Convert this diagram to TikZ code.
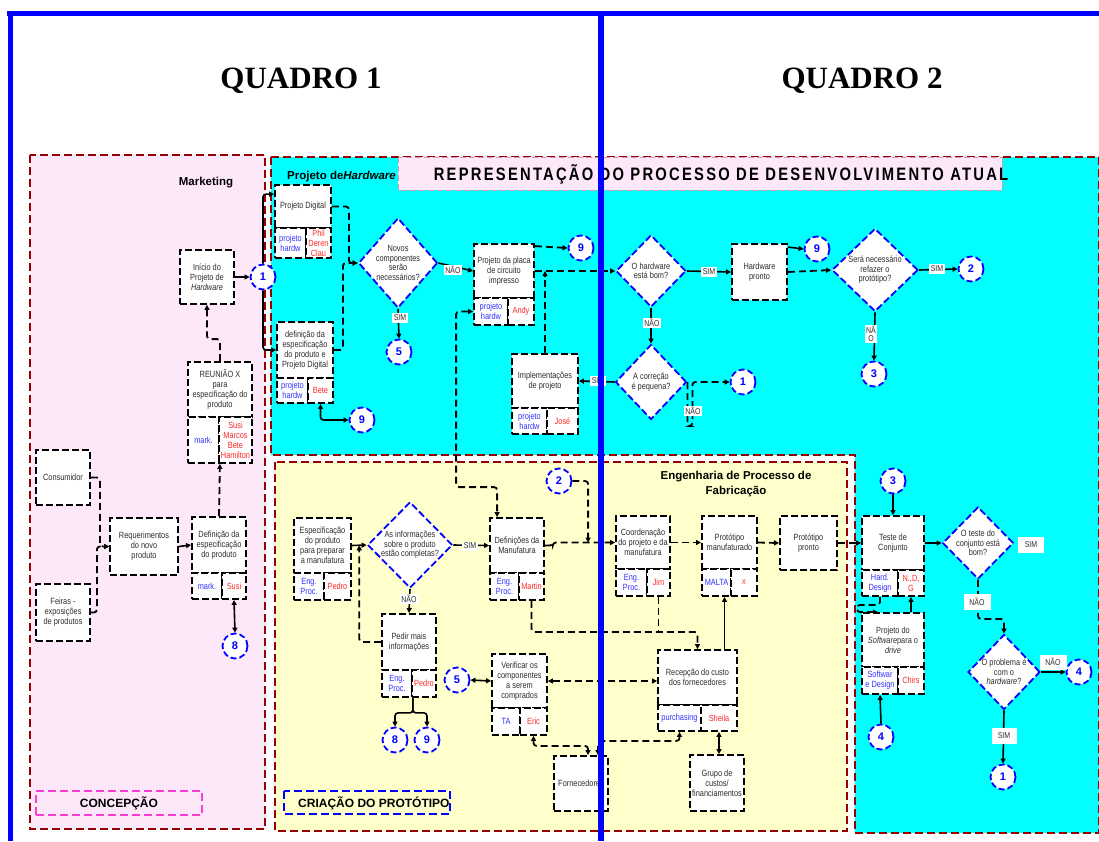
\documentclass[tikz,border=0pt]{standalone}
\usepackage{fontspec}
\setmainfont{Liberation Sans}
\newfontfamily\narrowsf[FakeStretch=0.82]{Liberation Sans}
\newfontfamily\titlesf[FakeStretch=0.82,LetterSpace=12.5]{Liberation Sans}
\newfontfamily\quadrofont{Liberation Serif}
\usetikzlibrary{shapes.geometric,arrows.meta,calc}

\definecolor{frameblue}{RGB}{0,0,255}
\definecolor{regred}{RGB}{150,0,0}
\definecolor{mkpink}{RGB}{253,232,250}
\definecolor{hwcyan}{RGB}{0,255,255}
\definecolor{protoyellow}{RGB}{255,255,204}
\definecolor{txtgray}{RGB}{45,45,45}
\definecolor{roleblue}{RGB}{50,50,255}
\definecolor{namered}{RGB}{255,40,40}
\definecolor{titlepinkline}{RGB}{215,150,170}
\definecolor{conceptmag}{RGB}{255,60,210}

\pgfdeclarelayer{bg}
\pgfdeclarelayer{wires}
\pgfsetlayers{bg,wires,main}

\tikzset{
  proc/.style={draw=black, fill=white, line width=1.8pt, dash pattern=on 7pt off 3pt,
    inner sep=1pt, align=center, font=\narrowsf\fontsize{9}{10}\selectfont, text=txtgray},
  cellL/.style={proc, text=roleblue},
  cellR/.style={proc, text=namered},
  dec/.style={diamond, draw=frameblue, fill=white, line width=1.8pt,
    dash pattern=on 7pt off 3pt, inner sep=0pt},
  dectext/.style={align=center, inner sep=0pt, text=txtgray,
    font=\narrowsf\fontsize{9}{9.5}\selectfont},
  conn/.style={circle, draw=frameblue, fill=white, line width=1.8pt,
    dash pattern=on 6pt off 3pt, minimum size=25pt, inner sep=0pt,
    font=\bfseries\fontsize{11}{11}\selectfont, text=frameblue},
  lbl/.style={fill=white, inner sep=1.5pt, align=center, text=txtgray,
    font=\narrowsf\fontsize{8.5}{8}\selectfont},
  wire/.style={draw=black, line width=1.8pt, dash pattern=on 7pt off 4pt, rounded corners=3pt},
  solidwire/.style={draw=black, line width=1.6pt, rounded corners=3pt},
  tip/.style={-{Triangle[length=5pt,width=5pt]}},
  dtip/.style={{Triangle[length=5pt,width=5pt]}-{Triangle[length=5pt,width=5pt]}},
  regborder/.style={draw=regred, line width=1.5pt, dash pattern=on 8pt off 4pt},
  regtitle/.style={font=\bfseries\fontsize{11.5}{15}\selectfont, text=black, align=center, inner sep=0pt},
  phasebox/.style={line width=1.5pt, dash pattern=on 8pt off 4pt, minimum height=24pt, inner sep=0pt,
    font=\bfseries\fontsize{12}{12}\selectfont, text=black}
}

% process box given by its corners (x1,y1) (x2,y2)
\newcommand\ProcBox[6]{\node[proc,minimum width={#4-#2},minimum height={#5-#3}] (#1) at ({(#2+#4)/2},{(#3+#5)/2}) {#6};}
% the two role cells under a process box: name, x-left, x-divider, x-right, y-top, y-bottom, role, person
\newcommand\RoleCells[8]{%
  \node[cellL,minimum width={#3-#2},minimum height={#6-#5}] (#1L) at ({(#2+#3)/2},{(#5+#6)/2}) {#7};
  \node[cellR,minimum width={#4-#3},minimum height={#6-#5}] (#1R) at ({(#3+#4)/2},{(#5+#6)/2}) {#8};}

\begin{document}
\begin{tikzpicture}[x=1pt,y=-1pt]
\useasboundingbox (0,0) rectangle (1099,841);

% ---------- swim regions ----------
\begin{pgfonlayer}{bg}
  \fill[white] (0,0) rectangle (1099,841);
  \draw[regborder, fill=mkpink] (30,155) rectangle (265,829);
  \draw[regborder, fill=hwcyan] (271,157) -- (1099,157) -- (1099,833) -- (855,833) -- (855,455) -- (271,455) -- cycle;
  \draw[regborder, fill=protoyellow] (275,462) rectangle (847,831);
  \draw[titlepinkline, line width=1pt, dash pattern=on 6pt off 3pt, fill=mkpink] (398,157) rectangle (1002,190);
\end{pgfonlayer}

\node[font=\quadrofont\bfseries\fontsize{31}{31}\selectfont, anchor=base, inner sep=0pt] (q1) at (301,88) {QUADRO 1};
\node[font=\quadrofont\bfseries\fontsize{31}{31}\selectfont, anchor=base, inner sep=0pt] (q2) at (862,88) {QUADRO 2};

\node[font=\titlesf\bfseries\fontsize{18}{18}\selectfont, anchor=base, inner sep=0pt] (title) at (721,180)
  {REPRESENTAÇÃO DO PROCESSO DE DESENVOLVIMENTO ATUAL};
\node[regtitle, anchor=base west] (hwtitle) at (287,179) {Projeto de\textit{Hardware}};
\node[regtitle, anchor=base] (mktitle) at (206,185) {Marketing};
\node[regtitle] (fabtitle) at (736,484) {Engenharia de Processo de\\Fabricação};

\node[phasebox, draw=conceptmag, minimum width=166pt] (concept) at (119,803) {CONCEPÇÃO};
\draw[phasebox, draw=frameblue] (284,791) rectangle (450,814);
\node[font=\bfseries\fontsize{12}{12}\selectfont, anchor=base west, inner sep=0pt] (proto) at (298,807) {CRIAÇÃO DO PROTÓTIPO};

% ---------- Marketing ----------
\ProcBox{cons}{36}{450}{90}{505}{Consumidor}
\ProcBox{feir}{36}{584}{90}{641}{Feiras -\\exposições\\de produtos}
\ProcBox{req}{110}{518}{178}{575}{Requerimentos\\do novo\\produto}
\ProcBox{def}{192}{517}{246}{573}{Definição da\\especificação\\do produto}
\RoleCells{def}{192}{222}{246}{573}{599}{mark.}{Susi}
\ProcBox{reun}{188}{362}{252}{417}{REUNIÃO X\\para\\especificação do\\produto}
\RoleCells{reun}{188}{219}{252}{417}{463}{mark.}{Susi\\Marcos\\Bete\\Hamilton}
\ProcBox{ini}{180}{250}{234}{304}{Início do\\Projeto de\\\textit{Hardware}}

% ---------- Projeto de Hardware ----------
\ProcBox{pd}{275}{185}{331}{228}{Projeto Digital}
\RoleCells{pd}{275}{306}{331}{228}{258}{projeto\\hardw}{Phil\\Deren\\Clau}
\ProcBox{dep}{277}{322}{333}{378}{definição da\\especificação\\do produto e\\Projeto Digital}
\RoleCells{dep}{277}{308}{333}{378}{403}{projeto\\hardw}{Bete}
\ProcBox{placa}{474}{244}{534}{298}{Projeto da placa\\de circuito\\impresso}
\RoleCells{placa}{474}{508}{534}{298}{325}{projeto\\hardw}{Andy}
\ProcBox{impl}{512}{354}{578}{408}{Implementações\\de projeto}
\RoleCells{impl}{512}{547}{578}{408}{434}{projeto\\hardw}{José}
\ProcBox{hwp}{732}{244}{787}{300}{Hardware\\pronto}

\node[dec, minimum width=79pt, minimum height=90pt] (dnov) at (398,263) {};
\node[dectext] (dnovt) at (dnov) {Novos\\componentes\\serão\\necessários?};
\node[dec, minimum width=70pt, minimum height=72pt] (dhw) at (651,271) {};
\node[dectext] (dhwt) at (dhw) {O hardware\\está bom?};
\node[dec, minimum width=86pt, minimum height=83pt] (dref) at (875,270) {};
\node[dectext] (dreft) at (dref) {Será necessário\\refazer o\\protótipo?};
\node[dec, minimum width=71pt, minimum height=75pt] (dcor) at (651,382) {};
\node[dectext] (dcort) at (dcor) {A correção\\é pequena?};

% ---------- Criação do protótipo ----------
\ProcBox{esp}{294}{518}{351}{573}{Especificação\\do produto\\para preparar\\a manufatura}
\RoleCells{esp}{294}{324}{351}{573}{600}{Eng.\\Proc.}{Pedro}
\ProcBox{dm}{490}{518}{544}{573}{Definições da\\Manufatura}
\RoleCells{dm}{490}{519}{544}{573}{600}{Eng.\\Proc.}{Martin}
\ProcBox{ped}{382}{614}{436}{670}{Pedir mais\\informações}
\RoleCells{ped}{382}{412}{436}{670}{697}{Eng.\\Proc.}{Pedro}
\ProcBox{ver}{492}{654}{547}{708}{Verificar os\\componentes\\a serem\\comprados}
\RoleCells{ver}{492}{520}{547}{708}{735}{TA}{Eric}
\ProcBox{forn}{554}{756}{608}{811}{Fornecedores}
\ProcBox{rec}{658}{650}{737}{705}{Recepção do custo\\dos fornecedores}
\RoleCells{rec}{658}{701}{737}{705}{731}{purchasing}{Sheila}
\ProcBox{grp}{690}{755}{744}{811}{Grupo de\\custos/\\financiamentos}
\ProcBox{coord}{616}{516}{670}{569}{Coordenação\\do projeto e da\\manufatura}
\RoleCells{coord}{616}{647}{670}{569}{596}{Eng.\\Proc.}{Jim}
\ProcBox{pm}{702}{516}{757}{569}{Protótipo\\manufaturado}
\RoleCells{pm}{702}{731}{757}{569}{596}{MALTA}{x}
\ProcBox{pp}{780}{516}{837}{570}{Protótipo\\pronto}

\node[dec, minimum width=85pt, minimum height=86pt] (dinf) at (410,545) {};
\node[dectext] (dinft) at (dinf) {As informações\\sobre o produto\\estão completas?};

% ---------- Teste ----------
\ProcBox{tc}{862}{516}{924}{570}{Teste de\\Conjunto}
\RoleCells{tc}{862}{898}{924}{570}{596}{Hard.\\Design}{N.,D,\\G}
\ProcBox{sw}{862}{613}{924}{667}{Projeto do\\\textit{Software}para o\\\textit{drive}}
\RoleCells{sw}{862}{898}{924}{667}{694}{Softwar\\e Design}{Chirs}

\node[dec, minimum width=71pt, minimum height=72pt] (dtes) at (978,543) {};
\node[dectext] (dtest) at (dtes) {O teste do\\conjunto está\\bom?};
\node[dec, minimum width=72pt, minimum height=75pt] (dprob) at (1004,672) {};
\node[dectext] (dprobt) at (dprob) {O problema é\\com o\\\textit{hardware}?};

% ---------- off-page connectors ----------
\node[conn] (c1a) at (263,277) {1};
\node[conn] (c8a) at (235,646) {8};
\node[conn] (c9a) at (362,420) {9};
\node[conn] (c5a) at (399,352) {5};
\node[conn] (c9b) at (581,248) {9};
\node[conn] (c9c) at (817,249) {9};
\node[conn] (c2a) at (971,269) {2};
\node[conn] (c3a) at (874,374) {3};
\node[conn] (c1b) at (743,382) {1};
\node[conn] (c2b) at (559,481) {2};
\node[conn] (c3b) at (893,481) {3};
\node[conn] (c5b) at (457,680) {5};
\node[conn] (c8b) at (395,740) {8};
\node[conn] (c9d) at (427,740) {9};
\node[conn] (c4a) at (1079,672) {4};
\node[conn] (c4b) at (881,737) {4};
\node[conn] (c1c) at (1003,777) {1};

% ---------- connectors ----------
\begin{pgfonlayer}{wires}
  % marketing
  \draw[wire,tip] (cons.east) -- ++(9,0) |- (req.west);
  \draw[wire,tip] (feir.east) -- ++(6,0) |- (req.west);
  \draw[solidwire,tip] (req.east) -- (def.west);
  \draw[wire,tip] (def.north) -- (reunL.south east);
  \draw[wire,tip] (reun.north) -- ++(0,-22) -| (ini.south);
  \draw[solidwire,tip] (ini.east) -- (c1a.west);
  \draw[solidwire,tip] (c1a.north) |- ($(pd.north west)+(0,10)$);
  \draw[solidwire,tip] (c1a.south) |- (dep.west);
  \draw[solidwire,dtip] (defR.south) -- (c8a.north);
  % hardware design
  \draw[wire,tip] (pd.east) -- ++(17,0) |- (dnov.west);
  \draw[wire,tip] (dep.east) -- ++(9,0) |- (dnov.west);
  \draw[solidwire,dtip] (depR.south) |- (c9a.west);
  \draw[solidwire,tip] (dnov.east) -- (placa.west);
  \draw[solidwire,tip] (dnov.south) -- (c5a.north);
  \draw[wire,tip] (placa.east) -- (dhw.west);
  \draw[wire,tip] ($(placa.north east)+(0,3)$) -- (c9b.west);
  \draw[wire,tip] (impl.north) -- (impl.north |- placa.east);
  \draw[wire,dtip] (placaL.west) -- ++(-17,0) |- ($(dm.north west)+(8,-30)$) -- ($(dm.north west)+(8,0)$);
  \draw[solidwire,tip] (dhw.east) -- (hwp.west);
  \draw[solidwire,tip] ($(hwp.north east)+(0,4)$) -- (c9c.west);
  \draw[wire,tip] (hwp.east) -- (dref.west);
  \draw[solidwire,tip] (dref.east) -- (c2a.west);
  \draw[solidwire,tip] (dref.south) -- (c3a.north);
  \draw[solidwire,tip] (dhw.south) -- (dcor.north);
  \draw[solidwire,tip] (dcor.west) -- (impl.east);
  \draw[wire,tip] (dcor.east) -- ++(0,44) -- ++(5,0) |- (c1b.west);
  % prototype creation
  \draw[solidwire,tip] (esp.east) -- (dinf.west);
  \draw[wire,tip] (ped.west) -| ($(esp.east)!0.5!(dinf.west)$);
  \draw[solidwire,tip] (dinf.east) -- (dm.west);
  \draw[solidwire,tip] (dinf.south) -- (ped.north);
  \draw[solidwire,tip] (pedL.south east) -- ++(0,15) -| (c8b.north);
  \draw[solidwire,tip] (pedL.south east) -- ++(0,15) -| (c9d.north);
  \draw[solidwire,dtip] (c5b.east) -- (ver.west);
  \draw[wire,dtip] (ver.east) -- (ver.east -| rec.west);
  \draw[wire,dtip] (verR.south) -- ++(0,10) -| ($(forn.north)+(7,0)$);
  \draw[wire,dtip] (recL.south) -- ++(0,9) -| ($(forn.north)+(17,0)$);
  \draw[solidwire,dtip] (recR.south) -- (recR.south |- grp.north);
  \draw[wire,tip] (dm.east) -- ++(8,0) |- (coord.west);
  \draw[wire,tip] (c2b.east) -| ($(coord.west)+(-27,0)$);
  \draw[wire,tip] (coord.east) -- (pm.west);
  \draw[wire,tip] (pm.east) -- (pp.west);
  \draw[wire,tip] (pp.east) -- (tc.west);
  \draw[wire,tip] (dmR.south) -- ++(0,31) -| (rec.north);
  \draw[wire] (coordR.south) -- ++(0,35);
  \coordinate (recup) at ($(rec.north)+(27,0)$);
  \draw[solidwire,tip] (recup) -- (recup |- pmL.south);
  % assembly test
  \draw[solidwire,tip] (c3b.south) -- (tc.north);
  \draw[solidwire,tip] (tc.east) -- (dtes.west);
  \draw[wire,tip] (dtes.south) -- ++(0,39) -| (dprob.north);
  \draw[solidwire,tip] (dprob.east) -- (c4a.west);
  \draw[solidwire,tip] (dprob.south) -- (c1c.north);
  \draw[solidwire,tip] (c4b.north) -- (swL.south);
  \draw[wire,tip] (tcL.south) -- ++(0,8) -| ($(sw.north west)+(-4,0)$) -- ($(sw.north west)+(17,0)$);
  \draw[solidwire,tip] (tcR.south |- sw.north) -- (tcR.south);
\end{pgfonlayer}

% ---------- answer labels ----------
\node[lbl] (l1) at (453,270) {NÃO};
\node[lbl] (l2) at (400,318) {SIM};
\node[lbl] (l3) at (709,272) {SIM};
\node[lbl] (l4) at (652,323) {NÃO};
\node[lbl] (l5) at (937,269) {SIM};
\node[lbl] (l6) at (871,334) {NÃ\\O};
\node[lbl] (l7) at (598,381) {SIM};
\node[lbl] (l8) at (693,411) {NÃO};
\node[lbl] (l9) at (470,546) {SIM};
\node[lbl] (l10) at (409,599) {NÃO};
\node[lbl, minimum width=26pt, minimum height=16pt] (l11) at (1031,545) {SIM};
\node[lbl, minimum width=27pt, minimum height=16pt] (l12) at (977,602) {NÃO};
\node[lbl, minimum width=27pt, minimum height=15pt] (l13) at (1053,662) {NÃO};
\node[lbl, minimum width=25pt, minimum height=16pt] (l14) at (1004,736) {SIM};

% ---------- frame ----------
\draw[frameblue, line width=5pt] (7,13) -- (1099,13);
\draw[frameblue, line width=5pt] (10.5,11) -- (10.5,841);
\draw[frameblue, line width=5.5pt] (601,11) -- (601,841);
\end{tikzpicture}
\end{document}
